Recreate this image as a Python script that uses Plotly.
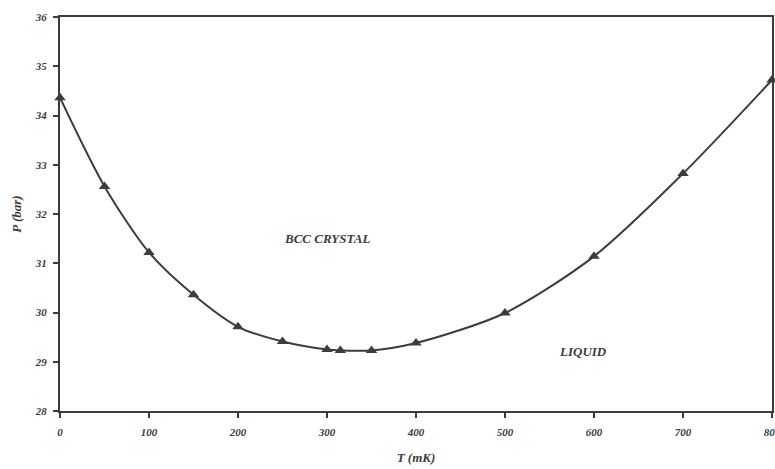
import plotly.graph_objects as go

T_mK = [0, 50, 100, 150, 200, 250, 300, 315, 350, 400, 500, 600, 700, 800]
P_bar = [34.36, 32.56, 31.22, 30.36, 29.71, 29.41, 29.25, 29.23, 29.23, 29.38, 29.99, 31.14, 32.82, 34.72]

x_ticks = [0, 100, 200, 300, 400, 500, 600, 700, 800]
y_ticks = [28, 29, 30, 31, 32, 33, 34, 35, 36]

col = "#3c3c3c"
font_fam = "Liberation Serif, Times New Roman, serif"

fig = go.Figure()
fig.add_trace(go.Scatter(
    x=T_mK, y=P_bar, mode="lines+markers",
    line=dict(color=col, width=2, shape="spline", smoothing=0.8),
    marker=dict(symbol="triangle-up", size=10, color=col),
    showlegend=False, cliponaxis=False,
))

fig.add_annotation(x=300, y=31.5, text="<b><i>BCC CRYSTAL</i></b>", showarrow=False,
                   font=dict(family=font_fam, size=13, color=col))
fig.add_annotation(x=588, y=29.2, text="<b><i>LIQUID</i></b>", showarrow=False,
                   font=dict(family=font_fam, size=13, color=col))

fig.update_layout(
    width=775, height=469,
    margin=dict(l=60, r=3, t=17, b=58),
    paper_bgcolor="white", plot_bgcolor="white",
    font=dict(family=font_fam, color=col),
)
fig.update_xaxes(
    range=[0, 800], tickvals=x_ticks, ticktext=[f"<b><i>{v}</i></b>" for v in x_ticks],
    showgrid=False, zeroline=False, showline=True, linecolor=col, linewidth=2, mirror=True,
    ticks="outside", ticklen=5, tickcolor=col, tickwidth=1.5,
    ticklabelstandoff=5, ticklabeloverflow="allow", automargin=False,
    tickfont=dict(size=11, family=font_fam, color=col),
    title=dict(text="<b><i>T (mK)</i></b>", font=dict(size=13, family=font_fam, color=col), standoff=16),
)
fig.update_yaxes(
    range=[28, 36], tickvals=y_ticks, ticktext=[f"<b><i>{v}</i></b>" for v in y_ticks],
    showgrid=False, zeroline=False, showline=True, linecolor=col, linewidth=2, mirror=True,
    ticks="outside", ticklen=5, tickcolor=col, tickwidth=1.5,
    ticklabelstandoff=4, automargin=False,
    tickfont=dict(size=11, family=font_fam, color=col),
    title=dict(text="<b><i>P (bar)</i></b>", font=dict(size=13, family=font_fam, color=col), standoff=10),
)

fig.write_html("out.html", config={"displayModeBar": False},
               post_script="document.body.style.margin='0';document.body.style.overflow='hidden';")
